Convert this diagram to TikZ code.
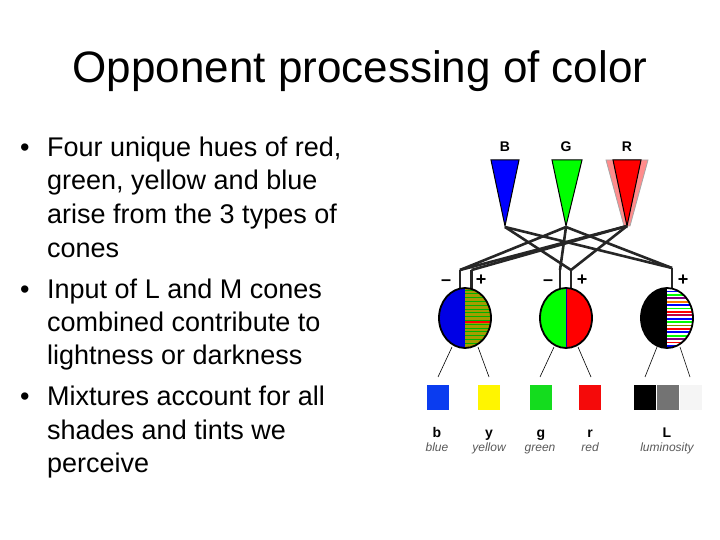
\documentclass[tikz,border=0pt]{standalone}
\usepackage{fontspec}
\setmainfont{Liberation Sans}
\begin{document}
\begin{tikzpicture}[x=1pt,y=-1pt,
  bul/.style={anchor=base west,font=\fontsize{27}{27}\selectfont,inner sep=0},
  wire/.style={line width=2.6pt,black!85},
  thin/.style={line width=0.6pt},
  sq/.style={minimum width=22pt,minimum height=25pt,inner sep=0,draw=none},
  bl/.style={font=\bfseries\fontsize{14}{14}\selectfont,inner sep=0,anchor=base},
  it/.style={font=\itshape\fontsize{12}{12}\selectfont,text=black!65,inner sep=0,anchor=base},
  sgn/.style={font=\bfseries\fontsize{18}{18}\selectfont,inner sep=0}]
\useasboundingbox (0,0) rectangle (720,540);
\node[font=\fontsize{44}{44}\selectfont,anchor=base] (title) at (360,83) {Opponent processing of color};
\foreach \y/\t [count=\i] in {157/{Four unique hues of red,},190/{green, yellow and blue},223/{arise from the 3 types of},257/{cones},298/{Input of L and M cones},331/{combined contribute to},364/{lightness or darkness},405/{Mixtures account for all},439/{shades and tints we},472/{perceive}}
  \node[bul] (l\i) at (47,\y) {\t};
\foreach \y [count=\i] in {157,298,405}
  \node[bul] (b\i) at (20,\y) {•};
% cones
\fill[red!45,draw=gray!70,line width=0.8pt] (606,160) -- (648,160) -- (630,226) -- (624,226) -- cycle;
\draw[black,line width=1pt,fill=blue] (491,160) -- (519,160) -- (505,226) -- cycle;
\draw[black,line width=1pt,fill=green] (552,160) -- (582,160) -- (566,226) -- cycle;
\draw[black,line width=1pt,fill=red] (613,160) -- (641,160) -- (627,226) -- cycle;
\node[bl] (B) at (505,152) {B};
\node[bl] (G) at (566,152) {G};
\node[bl] (R) at (627,152) {R};
\coordinate (jb) at (505,227);
\coordinate (jg) at (566,227);
\coordinate (jr) at (627,226);
\coordinate (c1l) at (460,270); \coordinate (c1r) at (471.5,270);
\coordinate (c2l) at (560,270); \coordinate (c2r) at (571,270);
\coordinate (c3) at (672,268);
\draw[wire] (jb) -- (c2r); \draw[wire] (jb) -- (c3);
\draw[wire] (jg) -- (c1l); \draw[wire] (jg) -- (c2l); \draw[wire] (jg) -- (c3);
\draw[wire] (jr) -- (c1l); \draw[wire] (jr) -- (c1r); \draw[wire] (jr) -- (c2r);
\foreach \c in {c1l,c1r,c2l,c2r,c3} \draw[wire] (\c) -- ++(0,20);
\node[sgn] (m1) at (446,283) {--};
\node[sgn] (p1) at (481,280) {+};
\node[sgn] (m2) at (548,283) {--};
\node[sgn] (p2) at (582,280) {+};
\node[sgn] (p3) at (683,280) {+};
% circles
\begin{scope}
\clip (465,318) ellipse (26 and 30);
\fill[blue!90!black] (430,280) rectangle (465,350);
\fill[olive!80!yellow] (465,280) rectangle (500,350);
\foreach \k in {0,...,14} \draw[green!70!black,line width=0.7pt] (465,290+\k*3.8) -- (500,290+\k*3.8);
\draw[red,line width=1.5pt] (465,322) -- (500,322);
\end{scope}
\draw[line width=1.8pt] (465,318) ellipse (26 and 30);
\begin{scope}
\clip (566,318) ellipse (26 and 30);
\fill[green] (530,280) rectangle (566,350);
\fill[red] (566,280) rectangle (600,350);
\draw[blue!70!black,line width=0.8pt] (566,285) -- (566,350);
\end{scope}
\draw[line width=1.8pt] (566,318) ellipse (26 and 30);
\begin{scope}
\clip (667,318) ellipse (26 and 30);
\fill[black] (630,280) rectangle (667,350);
\fill[white] (667,280) rectangle (700,350);
\foreach \k/\col in {0/red,1/blue,2/green,3/violet,4/orange,5/blue,6/green,7/red,8/purple,9/blue,10/green,11/olive,12/red,13/blue,14/green,15/violet,16/red,17/blue}
  \draw[\col,line width=1.8pt] (667,288+\k*3.4) -- (700,288+\k*3.4);
\end{scope}
\draw[line width=1.8pt] (667,318) ellipse (26 and 30);
% thin lines
\draw[thin] (452,347) -- (438,377); \draw[thin] (478,347) -- (489,377);
\draw[thin] (554,347) -- (540,377); \draw[thin] (578,347) -- (591,377);
\draw[thin] (657,347) -- (645,377); \draw[thin] (680,347) -- (690,377);
% squares
\node[sq,fill={rgb,255:red,10;green,60;blue,240}] (sb) at (438,397.5) {};
\node[sq,fill={rgb,255:red,255;green,245;blue,0}] (sy) at (489,397.5) {};
\node[sq,fill={rgb,255:red,20;green,220;blue,30}] (sg) at (541,397.5) {};
\node[sq,fill={rgb,255:red,245;green,10;blue,10}] (sr) at (590,397.5) {};
\node[sq,fill=black] (sk) at (645,397.5) {};
\node[sq,fill=black!55] (sm) at (667.5,397.5) {};
\node[sq,fill=black!4] (sw) at (690.5,397.5) {};
\node[bl] (tb) at (437,437) {b};
\node[bl] (ty) at (489,437) {y};
\node[bl] (tg) at (541,437) {g};
\node[bl] (tr) at (590,437) {r};
\node[bl] (tL) at (667,437) {L};
\node[it] (ib) at (437,451) {blue};
\node[it] (iy) at (489,451) {yellow};
\node[it] (ig) at (540,451) {green};
\node[it] (ir) at (590,451) {red};
\node[it] (iL) at (667,451) {luminosity};
\end{tikzpicture}
\end{document}
